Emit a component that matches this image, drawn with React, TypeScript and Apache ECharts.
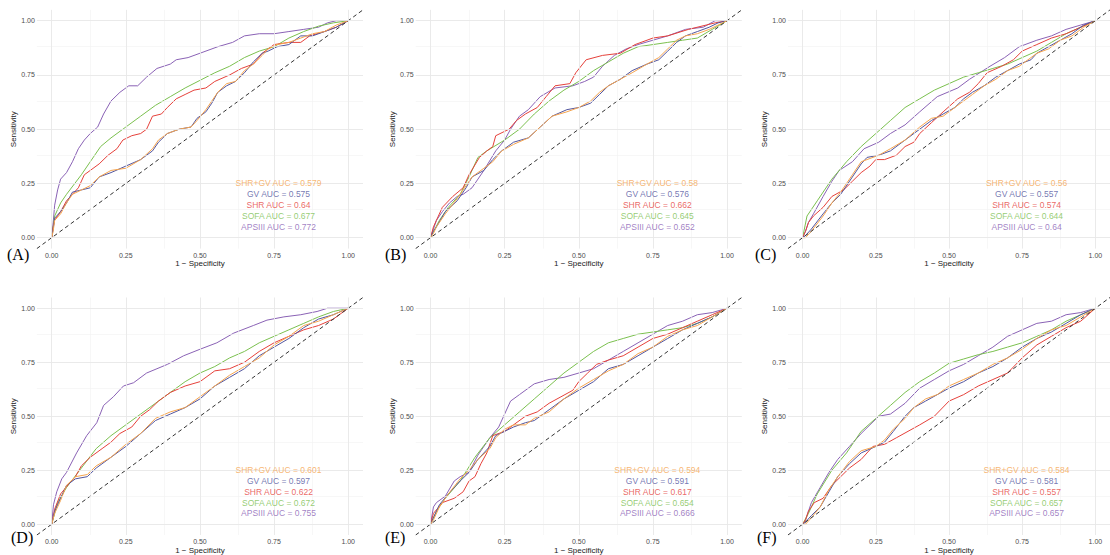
import React, { useEffect, useRef } from "react";
import * as echarts from "echarts";

// ---------- data ----------
const modelNames = ["SHR+GV", "GV", "SHR", "SOFA", "APSIII"];
const modelColors = ["#F5A44E", "#52559E", "#E5413B", "#7BC04F", "#8A62B5"];
const tickValues = [0, 0.25, 0.5, 0.75, 1];
const majorGrid = [0, 0.25, 0.5, 0.75, 1];
const minorGrid = [0.125, 0.375, 0.625, 0.875];
const panelLetters = ["(A)", "(B)", "(C)", "(D)", "(E)", "(F)"];
const labelY = [0.25, 0.2, 0.15, 0.1, 0.05];
const labelX = 0.765;
const diagonal = [[-0.05, -0.05], [1.05, 1.05]];

const aucA = ["0.579", "0.575", "0.64", "0.677", "0.772"];
const aucB = ["0.58", "0.576", "0.662", "0.645", "0.652"];
const aucC = ["0.56", "0.557", "0.574", "0.644", "0.64"];
const aucD = ["0.601", "0.597", "0.622", "0.672", "0.755"];
const aucE = ["0.594", "0.591", "0.617", "0.654", "0.666"];
const aucF = ["0.584", "0.581", "0.557", "0.657", "0.657"];

// Panel A
const apsA = [[0,0],[0.005,0.07],[0.01,0.15],[0.02,0.22],[0.03,0.27],[0.05,0.3],[0.07,0.35],[0.09,0.41],[0.11,0.45],[0.13,0.48],[0.155,0.51],[0.175,0.57],[0.2,0.63],[0.23,0.67],[0.26,0.7],[0.29,0.7],[0.32,0.74],[0.355,0.78],[0.4,0.8],[0.42,0.82],[0.46,0.83],[0.5,0.85],[0.56,0.88],[0.61,0.9],[0.65,0.93],[0.7,0.94],[0.75,0.94],[0.8,0.95],[0.85,0.96],[0.9,0.97],[0.93,0.99],[0.96,1],[1,1]];
const sofaA = [[0,0],[0.01,0.1],[0.03,0.16],[0.05,0.2],[0.1,0.29],[0.165,0.42],[0.2,0.46],[0.25,0.51],[0.3,0.56],[0.35,0.61],[0.4,0.65],[0.45,0.69],[0.5,0.725],[0.55,0.76],[0.6,0.79],[0.65,0.83],[0.7,0.86],[0.75,0.88],[0.8,0.92],[0.85,0.95],[0.9,0.975],[0.95,0.99],[1,1]];
const shrA = [[0,0],[0.005,0.05],[0.01,0.08],[0.03,0.12],[0.05,0.17],[0.07,0.2],[0.09,0.23],[0.11,0.29],[0.13,0.31],[0.16,0.34],[0.19,0.38],[0.22,0.41],[0.24,0.45],[0.27,0.47],[0.3,0.48],[0.32,0.5],[0.34,0.56],[0.37,0.57],[0.39,0.6],[0.42,0.64],[0.45,0.66],[0.48,0.68],[0.52,0.69],[0.55,0.72],[0.6,0.75],[0.64,0.78],[0.68,0.8],[0.71,0.85],[0.75,0.89],[0.8,0.9],[0.84,0.9],[0.87,0.93],[0.92,0.95],[0.96,0.97],[1,1]];
const gvA = [[0,0],[0.005,0.04],[0.01,0.09],[0.03,0.12],[0.05,0.16],[0.07,0.21],[0.1,0.22],[0.13,0.23],[0.16,0.28],[0.2,0.3],[0.25,0.33],[0.3,0.36],[0.34,0.4],[0.36,0.44],[0.39,0.48],[0.43,0.5],[0.47,0.51],[0.49,0.55],[0.52,0.58],[0.54,0.62],[0.56,0.67],[0.59,0.7],[0.62,0.72],[0.65,0.76],[0.68,0.81],[0.71,0.85],[0.73,0.86],[0.76,0.88],[0.8,0.89],[0.84,0.93],[0.88,0.93],[0.92,0.95],[0.96,0.97],[1,1]];
const shrgvA = [[0,0],[0.005,0.03],[0.01,0.08],[0.03,0.11],[0.05,0.16],[0.07,0.2],[0.1,0.22],[0.13,0.24],[0.16,0.28],[0.2,0.31],[0.25,0.32],[0.3,0.36],[0.34,0.41],[0.36,0.45],[0.39,0.48],[0.43,0.5],[0.47,0.51],[0.49,0.54],[0.52,0.59],[0.54,0.63],[0.56,0.67],[0.59,0.71],[0.62,0.72],[0.65,0.77],[0.68,0.8],[0.71,0.84],[0.73,0.87],[0.76,0.89],[0.8,0.9],[0.84,0.92],[0.88,0.94],[0.92,0.95],[0.96,0.98],[1,1]];

// Panel B
const apsB = [[0,0],[0.02,0.08],[0.04,0.12],[0.064,0.16],[0.09,0.19],[0.11,0.2],[0.14,0.23],[0.16,0.27],[0.18,0.31],[0.22,0.4],[0.25,0.45],[0.27,0.5],[0.3,0.56],[0.33,0.59],[0.37,0.65],[0.42,0.69],[0.48,0.7],[0.52,0.72],[0.55,0.74],[0.58,0.79],[0.62,0.84],[0.66,0.87],[0.7,0.89],[0.75,0.91],[0.8,0.93],[0.86,0.96],[0.92,0.97],[0.96,1],[1,1]];
const sofaB = [[0,0],[0.03,0.08],[0.06,0.14],[0.1,0.2],[0.13,0.28],[0.16,0.37],[0.19,0.4],[0.25,0.45],[0.3,0.5],[0.35,0.57],[0.4,0.63],[0.45,0.68],[0.5,0.72],[0.55,0.77],[0.6,0.81],[0.65,0.85],[0.7,0.88],[0.75,0.89],[0.8,0.9],[0.85,0.91],[0.9,0.92],[0.95,0.96],[1,1]];
const shrB = [[0,0],[0.01,0.05],[0.02,0.08],[0.04,0.14],[0.075,0.19],[0.11,0.23],[0.13,0.29],[0.165,0.37],[0.19,0.4],[0.21,0.42],[0.22,0.47],[0.265,0.5],[0.29,0.54],[0.32,0.57],[0.36,0.6],[0.39,0.65],[0.42,0.7],[0.47,0.71],[0.49,0.76],[0.525,0.82],[0.58,0.84],[0.64,0.85],[0.69,0.89],[0.75,0.92],[0.8,0.93],[0.87,0.96],[0.93,0.98],[0.96,0.99],[1,1]];
const gvB = [[0,0],[0.01,0.03],[0.02,0.05],[0.05,0.12],[0.09,0.17],[0.12,0.23],[0.14,0.28],[0.18,0.31],[0.21,0.36],[0.24,0.4],[0.28,0.44],[0.33,0.46],[0.37,0.51],[0.41,0.56],[0.46,0.59],[0.5,0.6],[0.54,0.62],[0.57,0.66],[0.6,0.7],[0.64,0.73],[0.68,0.77],[0.73,0.8],[0.77,0.82],[0.8,0.86],[0.83,0.9],[0.86,0.93],[0.9,0.95],[0.94,0.97],[0.97,0.99],[1,1]];
const shrgvB = [[0,0],[0.01,0.02],[0.02,0.05],[0.05,0.11],[0.09,0.18],[0.12,0.24],[0.14,0.28],[0.18,0.32],[0.21,0.35],[0.24,0.4],[0.28,0.43],[0.33,0.46],[0.37,0.51],[0.41,0.56],[0.46,0.58],[0.5,0.6],[0.54,0.63],[0.57,0.67],[0.6,0.7],[0.64,0.73],[0.68,0.76],[0.73,0.8],[0.77,0.83],[0.8,0.87],[0.83,0.91],[0.86,0.93],[0.9,0.94],[0.94,0.96],[0.97,0.98],[1,1]];

// Panel C
const apsC = [[0,0],[0.01,0.03],[0.02,0.07],[0.037,0.11],[0.07,0.19],[0.1,0.26],[0.125,0.31],[0.17,0.35],[0.21,0.41],[0.26,0.44],[0.3,0.48],[0.35,0.52],[0.4,0.58],[0.46,0.65],[0.53,0.69],[0.57,0.73],[0.64,0.79],[0.69,0.83],[0.74,0.88],[0.8,0.91],[0.85,0.93],[0.9,0.96],[0.95,0.98],[1,1]];
const sofaC = [[0,0],[0.015,0.1],[0.05,0.17],[0.1,0.27],[0.15,0.35],[0.2,0.42],[0.25,0.48],[0.3,0.54],[0.35,0.6],[0.4,0.64],[0.45,0.68],[0.5,0.71],[0.55,0.74],[0.6,0.76],[0.65,0.78],[0.7,0.8],[0.75,0.83],[0.8,0.86],[0.85,0.9],[0.9,0.94],[0.95,0.97],[1,1]];
const shrC = [[0,0],[0.01,0.03],[0.02,0.07],[0.037,0.1],[0.07,0.14],[0.1,0.19],[0.14,0.22],[0.17,0.26],[0.2,0.3],[0.23,0.33],[0.25,0.36],[0.28,0.36],[0.32,0.38],[0.35,0.42],[0.38,0.44],[0.4,0.48],[0.44,0.53],[0.48,0.58],[0.53,0.64],[0.57,0.67],[0.6,0.71],[0.63,0.76],[0.68,0.79],[0.72,0.82],[0.75,0.86],[0.8,0.89],[0.85,0.92],[0.9,0.94],[0.95,0.97],[1,1]];
const gvC = [[0,0],[0.01,0.01],[0.03,0.04],[0.07,0.11],[0.1,0.16],[0.13,0.2],[0.17,0.28],[0.2,0.34],[0.22,0.37],[0.26,0.38],[0.3,0.4],[0.35,0.45],[0.4,0.5],[0.44,0.54],[0.48,0.57],[0.52,0.6],[0.55,0.64],[0.58,0.67],[0.62,0.7],[0.66,0.74],[0.7,0.77],[0.74,0.8],[0.78,0.82],[0.8,0.85],[0.84,0.88],[0.88,0.91],[0.92,0.94],[0.96,0.98],[1,1]];
const shrgvC = [[0,0],[0.01,0.0],[0.03,0.03],[0.07,0.1],[0.1,0.16],[0.13,0.21],[0.17,0.29],[0.2,0.35],[0.22,0.36],[0.26,0.38],[0.3,0.41],[0.35,0.45],[0.4,0.51],[0.44,0.55],[0.48,0.56],[0.52,0.6],[0.55,0.63],[0.58,0.66],[0.62,0.7],[0.66,0.73],[0.7,0.77],[0.74,0.79],[0.78,0.83],[0.8,0.85],[0.84,0.87],[0.88,0.91],[0.92,0.93],[0.96,0.97],[1,1]];

// Panel D
const apsD = [[0,0],[0.006,0.09],[0.017,0.15],[0.034,0.21],[0.05,0.24],[0.084,0.33],[0.118,0.41],[0.152,0.47],[0.175,0.55],[0.208,0.59],[0.242,0.64],[0.276,0.655],[0.32,0.7],[0.355,0.72],[0.39,0.74],[0.445,0.78],[0.5,0.81],[0.557,0.84],[0.614,0.885],[0.68,0.92],[0.726,0.945],[0.783,0.96],[0.84,0.97],[0.895,0.985],[0.93,1],[1,1]];
const sofaD = [[0,0],[0.02,0.1],[0.05,0.17],[0.1,0.26],[0.15,0.35],[0.2,0.41],[0.25,0.46],[0.3,0.51],[0.35,0.56],[0.4,0.61],[0.45,0.66],[0.5,0.7],[0.55,0.73],[0.6,0.77],[0.65,0.8],[0.7,0.84],[0.75,0.87],[0.8,0.9],[0.85,0.93],[0.9,0.96],[0.95,0.985],[1,1]];
const shrD = [[0,0],[0.01,0.07],[0.03,0.14],[0.06,0.19],[0.08,0.22],[0.1,0.27],[0.13,0.31],[0.17,0.35],[0.2,0.38],[0.23,0.42],[0.27,0.45],[0.3,0.5],[0.33,0.53],[0.36,0.57],[0.4,0.61],[0.45,0.64],[0.5,0.66],[0.55,0.71],[0.6,0.72],[0.65,0.75],[0.7,0.8],[0.75,0.84],[0.8,0.87],[0.85,0.9],[0.9,0.92],[0.95,0.95],[1,1]];
const gvD = [[0,0],[0.01,0.06],[0.03,0.12],[0.05,0.18],[0.08,0.21],[0.12,0.22],[0.15,0.26],[0.2,0.31],[0.25,0.36],[0.3,0.42],[0.35,0.48],[0.4,0.51],[0.45,0.54],[0.5,0.58],[0.55,0.64],[0.6,0.68],[0.65,0.72],[0.7,0.78],[0.75,0.82],[0.8,0.86],[0.85,0.91],[0.9,0.95],[0.95,0.97],[1,1]];
const shrgvD = [[0,0],[0.01,0.05],[0.03,0.11],[0.05,0.18],[0.08,0.22],[0.12,0.23],[0.15,0.27],[0.2,0.31],[0.25,0.37],[0.3,0.42],[0.35,0.49],[0.4,0.52],[0.45,0.54],[0.5,0.59],[0.55,0.64],[0.6,0.69],[0.65,0.73],[0.7,0.77],[0.75,0.83],[0.8,0.87],[0.85,0.92],[0.9,0.94],[0.95,0.97],[1,1]];

// Panel E
const apsE = [[0,0],[0.01,0.08],[0.02,0.1],[0.05,0.13],[0.08,0.2],[0.1,0.22],[0.13,0.24],[0.16,0.32],[0.2,0.4],[0.23,0.45],[0.27,0.57],[0.3,0.6],[0.35,0.65],[0.4,0.67],[0.45,0.68],[0.5,0.7],[0.55,0.72],[0.6,0.76],[0.65,0.8],[0.7,0.84],[0.75,0.88],[0.8,0.92],[0.85,0.94],[0.9,0.97],[0.95,0.98],[1,1]];
const sofaE = [[0,0],[0.02,0.06],[0.05,0.12],[0.1,0.2],[0.15,0.31],[0.2,0.4],[0.25,0.46],[0.3,0.52],[0.35,0.58],[0.4,0.64],[0.45,0.7],[0.5,0.75],[0.55,0.8],[0.6,0.84],[0.65,0.86],[0.7,0.88],[0.75,0.89],[0.8,0.9],[0.85,0.91],[0.9,0.93],[0.95,0.96],[1,1]];
const shrE = [[0,0],[0.01,0.05],[0.04,0.1],[0.08,0.12],[0.11,0.15],[0.13,0.2],[0.15,0.22],[0.17,0.28],[0.19,0.33],[0.21,0.41],[0.25,0.43],[0.28,0.46],[0.32,0.5],[0.36,0.52],[0.4,0.56],[0.44,0.59],[0.48,0.62],[0.5,0.66],[0.53,0.7],[0.56,0.74],[0.6,0.76],[0.65,0.78],[0.7,0.82],[0.75,0.86],[0.8,0.88],[0.85,0.91],[0.9,0.94],[0.95,0.97],[1,1]];
const gvE = [[0,0],[0.01,0.03],[0.03,0.09],[0.06,0.14],[0.1,0.2],[0.13,0.24],[0.16,0.3],[0.2,0.36],[0.22,0.41],[0.25,0.43],[0.28,0.45],[0.32,0.47],[0.35,0.48],[0.4,0.53],[0.45,0.58],[0.5,0.62],[0.55,0.66],[0.6,0.72],[0.65,0.74],[0.7,0.78],[0.75,0.82],[0.8,0.86],[0.85,0.9],[0.9,0.93],[0.95,0.96],[1,1]];
const shrgvE = [[0,0],[0.01,0.02],[0.03,0.08],[0.06,0.14],[0.1,0.21],[0.13,0.25],[0.16,0.3],[0.2,0.35],[0.22,0.4],[0.25,0.44],[0.28,0.46],[0.32,0.46],[0.35,0.49],[0.4,0.52],[0.45,0.58],[0.5,0.63],[0.55,0.67],[0.6,0.71],[0.65,0.74],[0.7,0.79],[0.75,0.82],[0.8,0.87],[0.85,0.9],[0.9,0.92],[0.95,0.96],[1,1]];

// Panel F
const apsF = [[0,0],[0.01,0.02],[0.03,0.1],[0.06,0.17],[0.09,0.24],[0.12,0.3],[0.16,0.36],[0.2,0.42],[0.23,0.46],[0.26,0.5],[0.3,0.51],[0.35,0.56],[0.4,0.63],[0.45,0.67],[0.5,0.71],[0.55,0.74],[0.6,0.78],[0.65,0.82],[0.7,0.87],[0.75,0.9],[0.8,0.93],[0.85,0.94],[0.9,0.97],[0.95,0.98],[1,1]];
const sofaF = [[0,0],[0.02,0.05],[0.05,0.14],[0.1,0.25],[0.15,0.33],[0.2,0.43],[0.25,0.49],[0.3,0.55],[0.35,0.61],[0.4,0.66],[0.45,0.7],[0.5,0.745],[0.55,0.765],[0.6,0.785],[0.65,0.8],[0.7,0.82],[0.75,0.84],[0.8,0.87],[0.85,0.9],[0.9,0.94],[0.95,0.97],[1,1]];
const shrF = [[0,0],[0.01,0.02],[0.02,0.06],[0.04,0.1],[0.07,0.12],[0.1,0.18],[0.13,0.22],[0.16,0.26],[0.2,0.3],[0.24,0.36],[0.28,0.37],[0.32,0.4],[0.36,0.43],[0.4,0.46],[0.45,0.5],[0.5,0.57],[0.55,0.6],[0.6,0.64],[0.65,0.67],[0.7,0.7],[0.75,0.77],[0.8,0.83],[0.85,0.87],[0.9,0.91],[0.95,0.94],[1,1]];
const gvF = [[0,0],[0.01,0.01],[0.03,0.04],[0.06,0.08],[0.09,0.15],[0.12,0.22],[0.16,0.28],[0.2,0.33],[0.25,0.36],[0.28,0.38],[0.31,0.43],[0.35,0.5],[0.38,0.54],[0.42,0.57],[0.46,0.6],[0.5,0.63],[0.55,0.66],[0.6,0.7],[0.65,0.73],[0.7,0.77],[0.75,0.82],[0.8,0.86],[0.85,0.89],[0.9,0.93],[0.95,0.97],[1,1]];
const shrgvF = [[0,0],[0.01,0.0],[0.03,0.03],[0.06,0.08],[0.09,0.16],[0.12,0.22],[0.16,0.29],[0.2,0.34],[0.25,0.36],[0.28,0.39],[0.31,0.44],[0.35,0.49],[0.38,0.54],[0.42,0.58],[0.46,0.6],[0.5,0.64],[0.55,0.67],[0.6,0.7],[0.65,0.74],[0.7,0.77],[0.75,0.81],[0.8,0.86],[0.85,0.9],[0.9,0.92],[0.95,0.96],[1,1]];

const panelCurves = [
  [shrgvA, gvA, shrA, sofaA, apsA],
  [shrgvB, gvB, shrB, sofaB, apsB],
  [shrgvC, gvC, shrC, sofaC, apsC],
  [shrgvD, gvD, shrD, sofaD, apsD],
  [shrgvE, gvE, shrE, sofaE, apsE],
  [shrgvF, gvF, shrF, sofaF, apsF],
];
const panelAucs = [aucA, aucB, aucC, aucD, aucE, aucF];

// ---------- layout ----------
const W = 1110;
const H = 555;
const colX0 = [51.7, 430.5, 802.8];
const rowY1 = [20.7, 308.3];
const unitW = 296.5;
const unitH = 217;
const letterPos = [
  [7, 254], [385, 254], [755, 254],
  [11, 537], [385, 537], [757, 537],
];
const SANS = "'Liberation Sans', Arial, sans-serif";
const SERIF = "'Liberation Serif', 'Times New Roman', serif";

export default function App() {
  const ref = useRef<HTMLDivElement>(null);

  useEffect(() => {
    if (!ref.current) return;
    const chart = echarts.init(ref.current, null, { renderer: "svg", width: W, height: H });

    const grids: any[] = [];
    const xAxes: any[] = [];
    const yAxes: any[] = [];
    const series: any[] = [];
    const drawOrder = [4, 3, 2, 1, 0];

    for (let p = 0; p < 6; p++) {
      const col = p % 3;
      const row = Math.floor(p / 3);
      const left = colX0[col] - 0.05 * unitW;
      const top = rowY1[row] - 0.05 * unitH;
      grids.push({ left, top, width: 1.1 * unitW, height: 1.1 * unitH, containLabel: false });

      xAxes.push({
        gridIndex: p, type: "value", min: -0.05, max: 1.05,
        axisLine: { show: false }, axisTick: { show: false }, splitLine: { show: false },
        axisLabel: {
          customValues: tickValues, formatter: (v: number) => v.toFixed(2),
          fontSize: 7, color: "#4D4D4D", margin: 3, fontFamily: SANS,
        },
        name: "1 − Specificity", nameLocation: "middle", nameGap: 11,
        nameTextStyle: { fontSize: 8, color: "#1A1A1A", fontFamily: SANS },
      });
      yAxes.push({
        gridIndex: p, type: "value", min: -0.05, max: 1.05,
        axisLine: { show: false }, axisTick: { show: false }, splitLine: { show: false },
        axisLabel: {
          customValues: tickValues, formatter: (v: number) => v.toFixed(2),
          fontSize: 7, color: "#4D4D4D", margin: 2, fontFamily: SANS,
        },
        name: "Sensitivity", nameLocation: "middle", nameGap: 19,
        nameTextStyle: { fontSize: 8, color: "#1A1A1A", fontFamily: SANS },
      });

      // grid lines
      const ml: any[] = [];
      minorGrid.forEach((v) => {
        ml.push({ xAxis: v, lineStyle: { color: "#F2F2F2", width: 0.6, type: "solid" } });
        ml.push({ yAxis: v, lineStyle: { color: "#F2F2F2", width: 0.6, type: "solid" } });
      });
      majorGrid.forEach((v) => {
        ml.push({ xAxis: v, lineStyle: { color: "#E8E8E8", width: 0.9, type: "solid" } });
        ml.push({ yAxis: v, lineStyle: { color: "#E8E8E8", width: 0.9, type: "solid" } });
      });
      series.push({
        type: "line", xAxisIndex: p, yAxisIndex: p, z: 1, silent: true,
        data: [[0, 0]], showSymbol: false, lineStyle: { width: 0, opacity: 0 },
        markLine: { silent: true, symbol: ["none", "none"], label: { show: false }, data: ml, animation: false },
      });

      // curves
      drawOrder.forEach((m) => {
        series.push({
          type: "line", name: modelNames[m], xAxisIndex: p, yAxisIndex: p, z: 3,
          data: panelCurves[p][m], showSymbol: false, symbol: "none", silent: true,
          lineStyle: { color: modelColors[m], width: 1 },
        });
      });

      // diagonal reference
      series.push({
        type: "line", xAxisIndex: p, yAxisIndex: p, z: 4, silent: true,
        data: diagonal, showSymbol: false, symbol: "none",
        lineStyle: { color: "#333333", width: 1, type: [4, 3] },
      });

      // AUC annotations
      series.push({
        type: "scatter", xAxisIndex: p, yAxisIndex: p, z: 5, silent: true,
        symbolSize: 0,
        data: labelY.map((y, i) => ({
          value: [labelX, y],
          label: {
            show: true, position: "inside",
            formatter: `${modelNames[i]} AUC = ${panelAucs[p][i]}`,
            color: modelColors[i], fontSize: 8.5, fontFamily: SANS,
          },
        })),
      });
    }

    chart.setOption({
      animation: false,
      backgroundColor: "#FFFFFF",
      grid: grids,
      xAxis: xAxes,
      yAxis: yAxes,
      series,
      graphic: panelLetters.map((t, i) => ({
        type: "text", x: letterPos[i][0], y: letterPos[i][1],
        style: { text: t, font: `16px ${SERIF}`, fill: "#000", textVerticalAlign: "middle", verticalAlign: "middle" },
      })),
    });

    return () => chart.dispose();
  }, []);

  return (
    <div
      ref={ref}
      style={{ position: "fixed", left: 0, top: 0, width: W, height: H, background: "#fff" }}
    />
  );
}
